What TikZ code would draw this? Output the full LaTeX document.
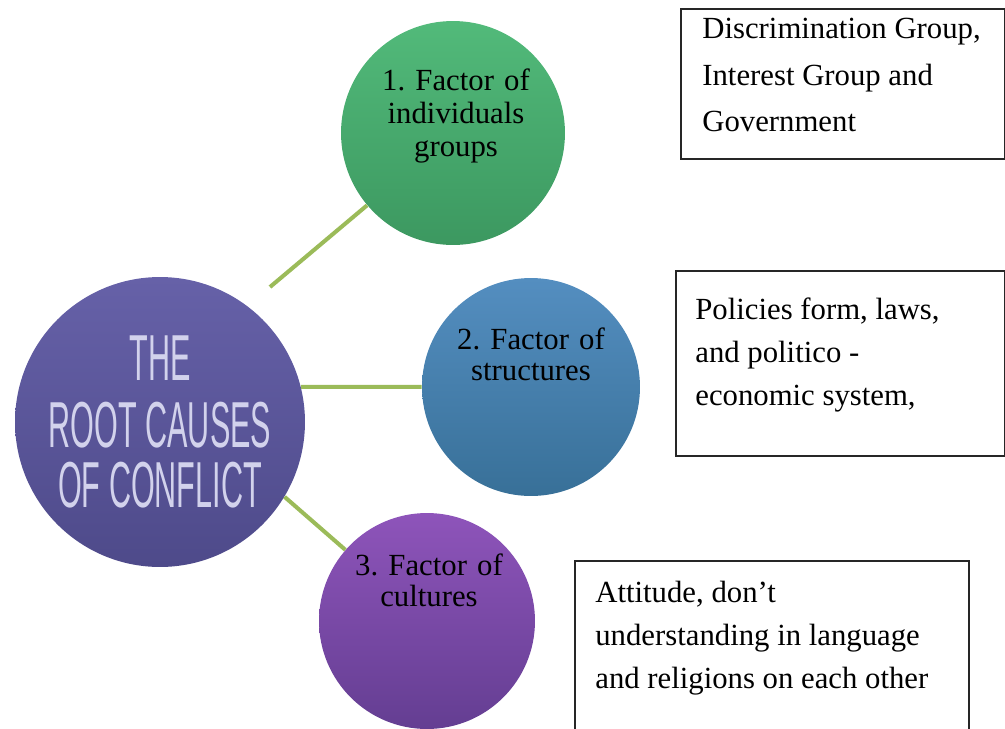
\documentclass[tikz,border=0pt]{standalone}
\usepackage{fontspec}
\setmainfont{Liberation Serif}
\newfontfamily\rootfont[FakeStretch=0.47]{Liberation Sans}
\usetikzlibrary{positioning}
\frenchspacing

\definecolor{linkgreen}{RGB}{155,187,89}
\definecolor{rootpurple}{RGB}{102,97,168}
\definecolor{rootdark}{RGB}{78,74,138}
\definecolor{rootink}{RGB}{210,210,236}

\begin{document}
\begin{tikzpicture}[
    x=0.02cm, y=-0.02cm,
    factor/.style={circle, inner sep=0pt, minimum size=#1},
    factortext/.style={anchor=north, inner sep=0pt, text width=4cm, align=center,
        font=\fontsize{17.5}{18}\selectfont},
    infobox/.style={draw=black!85, line width=1.1pt, anchor=north west, inner sep=0pt},
    infotext/.style={anchor=north west, inner sep=0pt, align=left,
        font=\fontsize{17.5}{24.5}\selectfont},
    link/.style={draw=linkgreen, line width=2.3pt}
]
\useasboundingbox (0,0) rectangle (1005,728);

% root circle
\node[factor=5.8cm, top color=rootpurple, bottom color=rootdark, text=rootink,
      align=center, font=\rootfont\fontsize{37}{34}\selectfont] (root) at (160,422)
    {THE\\[4pt]ROOT CAUSES\\OF CONFLICT};

% factors
\node[factor=4.48cm, top color={rgb,255:red,82;green,186;blue,122},
      bottom color={rgb,255:red,60;green,152;blue,96}] (f1) at (453,133) {};
\node[factor=4.36cm, top color={rgb,255:red,84;green,142;blue,192},
      bottom color={rgb,255:red,56;green,112;blue,152}] (f2) at (531,387) {};
\node[factor=4.32cm, top color={rgb,255:red,142;green,84;blue,186},
      bottom color={rgb,255:red,100;green,62;blue,146}] (f3) at (427,621) {};

\node[factortext, font=\fontsize{17.5}{19}\selectfont] (f1t) at (456,68) {1. Factor of\\individuals\\groups};
\node[factortext] (f2t) at (531,327) {2. Factor of\\structures};
\node[factortext] (f3t) at (429,553) {3. Factor of\\cultures};

\coordinate (c1) at (270,287);
\draw[link] (c1) -- (f1);
\draw[link] (root.14) -- (f2);
\draw[link] (root.-31) -- (f3);

% boxes
\node[infobox, minimum width=6.48cm, minimum height=3cm] (box1) at (680,8) {};
\node[infobox, minimum width=6.58cm, minimum height=3.7cm] (box2) at (675,270) {};
\node[infobox, minimum width=7.88cm, minimum height=3.7cm] (box3) at (574,560) {};

\node[infotext, font=\fontsize{17.5}{26.5}\selectfont] (box1t) at (702,18) {Discrimination Group,\\Interest Group and\\Government};
\node[infotext] (box2t) at (695,297) {Policies form, laws,\\and politico -\\economic system,};
\node[infotext] (box3t) at (595,581) {Attitude, don’t\\understanding in language\\and religions on each other};
\end{tikzpicture}
\end{document}
